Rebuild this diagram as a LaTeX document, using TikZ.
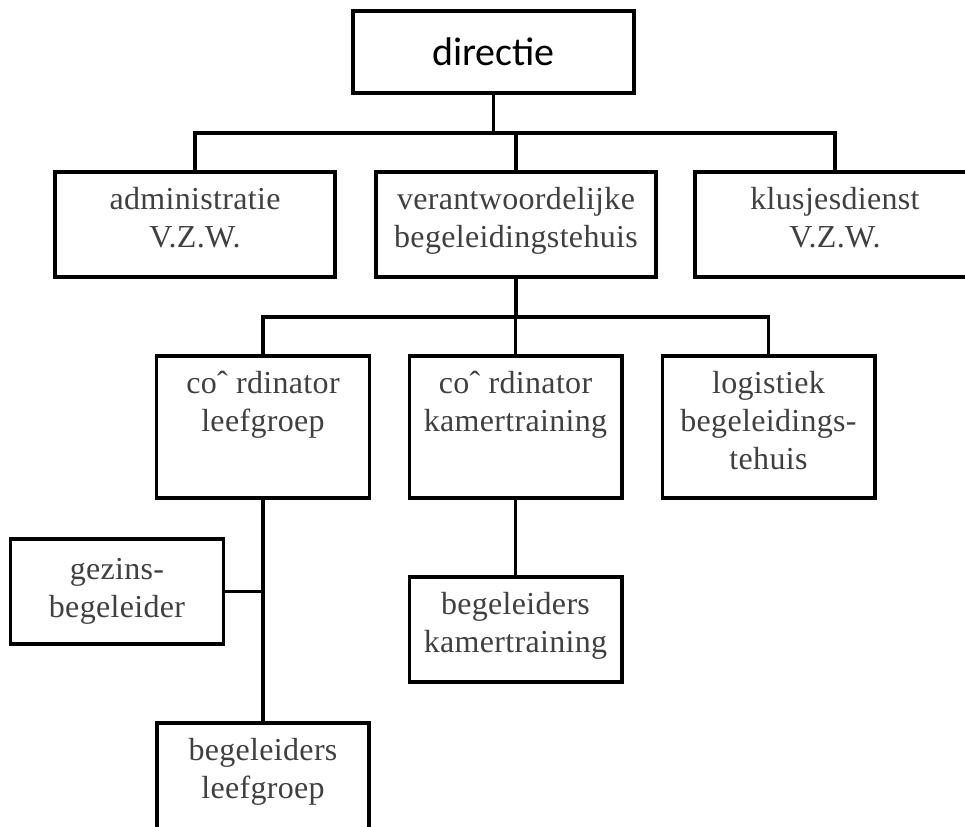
\documentclass[tikz,border=0pt]{standalone}
\usepackage{fontspec}
\usepackage{tikz}
\usetikzlibrary{calc,positioning}
\newfontfamily\boxfont[LetterSpace=1]{Liberation Serif}
\newfontfamily\headfont{Carlito}

\begin{document}
\begin{tikzpicture}[x=0.75pt,y=-0.75pt,
  box/.style={draw,line width=2.5pt,inner sep=0pt,outer sep=0pt},
  widebox/.style={box,minimum width=210pt,minimum height=78.75pt},
  tallbox/.style={box,minimum width=159.5pt,minimum height=106.5pt},
  smallbox/.style={box,minimum width=159.5pt,minimum height=78.75pt},
  txt/.style={anchor=north,inner sep=0pt,align=center,text=black!75,yshift=-11pt,
    font=\boxfont\fontsize{24}{28.5}\selectfont,execute at begin node=\strut},
  conn/.style={line width=2.5pt}]
  % page frame
  \useasboundingbox (0,0) rectangle (965,826);
  \clip (0,0) rectangle (965,826);

  % top
  \node[box,minimum width=210.75pt,minimum height=61.5pt,
    font=\headfont\fontsize{30}{36}\selectfont] (dir) at (493.5,52) {directie};

  % second row
  \node[widebox] (adm) at (195,224.5) {};
  \node[widebox] (ver) at (516,224.5) {};
  \node[widebox] (klus) at (835,224.5) {};
  \node[txt] (adm-t) at (adm.north) {administratie\\V.Z.W.};
  \node[txt] (ver-t) at (ver.north) {verantwoordelijke\\begeleidingstehuis};
  \node[txt] (klus-t) at (klus.north) {klusjesdienst\\V.Z.W.};

  % third row
  \node[tallbox] (cl) at (263,427) {};
  \node[tallbox] (ck) at (515.5,427) {};
  \node[tallbox] (lg) at (768.5,427) {};
  \node[txt] (cl-t) at (cl.north) {coˆ rdinator\\leefgroep};
  \node[txt] (ck-t) at (ck.north) {coˆ rdinator\\kamertraining};
  \node[txt] (lg-t) at (lg.north) {logistiek\\begeleidings-\\tehuis};

  % lower boxes
  \node[smallbox] (gz) at (117,591.5) {};
  \node[smallbox] (bk) at (515.5,629.5) {};
  \node[box,minimum width=159pt,minimum height=84pt] (bl) at (263,779) {};
  \node[txt,yshift=-3pt] (gz-t) at (gz.north) {gezins-\\begeleider};
  \node[txt] (bk-t) at (bk.north) {begeleiders\\kamertraining};
  \node[txt] (bl-t) at (bl.north) {begeleiders\\leefgroep};

  % connectors
  \coordinate (bus1) at (0,133);
  \coordinate (bus2) at (0,317);
  \draw[conn] (dir.south) -- (dir.south |- bus1);
  \draw[conn] (adm.north) -- (adm.north |- bus1) -- (klus.north |- bus1) -- (klus.north);
  \draw[conn] (ver.north) -- (ver.north |- bus1);
  \draw[conn] (ver.south) -- (ver.south |- bus2);
  \draw[conn] (cl.north) -- (cl.north |- bus2) -- (lg.north |- bus2) -- (lg.north);
  \draw[conn] (ck.north) -- (ck.north |- bus2);
  \draw[conn] (cl.south) -- (bl.north);
  \draw[conn] (gz.east) -- (gz.east -| cl.south);
  \draw[conn] (ck.south) -- (bk.north);
\end{tikzpicture}
\end{document}
